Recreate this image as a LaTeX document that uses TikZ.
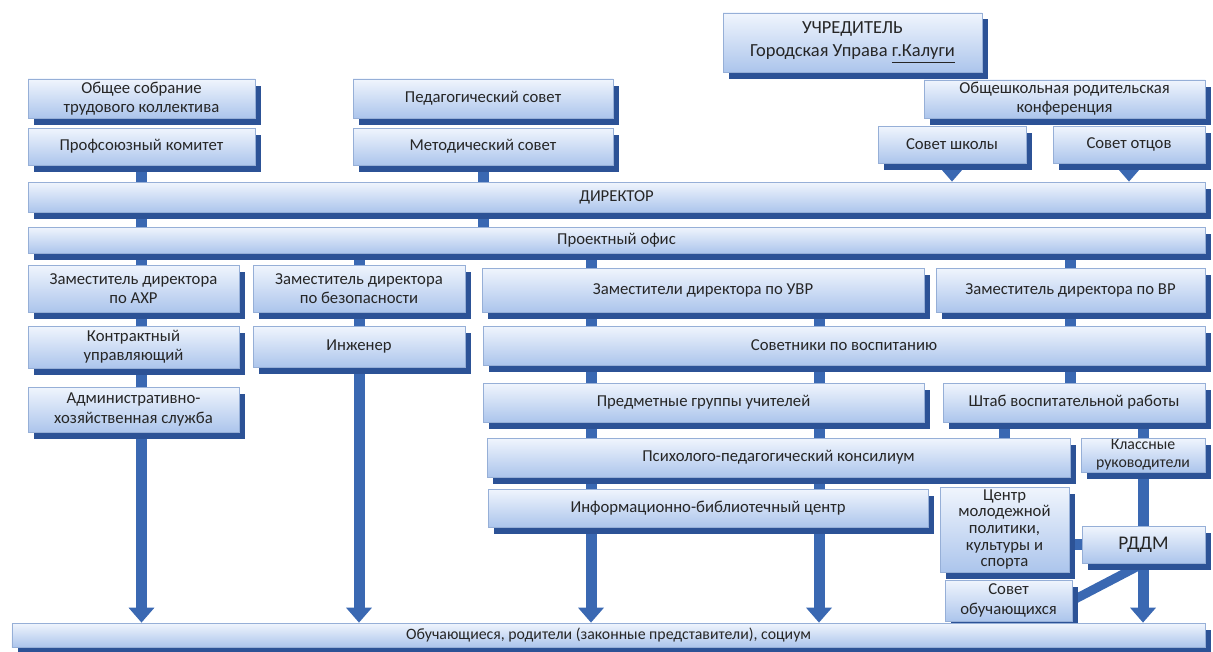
\documentclass[tikz,border=0pt]{standalone}
\usepackage{fontspec}
\setmainfont{Carlito}
\usetikzlibrary{shadows,arrows.meta}
\definecolor{linkblue}{RGB}{58,104,178}
\definecolor{shadowblue}{RGB}{44,82,150}
\definecolor{boxtop}{RGB}{240,245,253}
\definecolor{boxbot}{RGB}{172,197,236}
\definecolor{boxline}{RGB}{150,175,215}
\pgfdeclarelayer{bg}
\pgfsetlayers{bg,main}

\begin{document}
\begin{tikzpicture}[>={Triangle[length=0.3cm,width=0.5cm]},
  box/.style={draw=boxline,top color=boxtop,bottom color=boxbot,text=black!85,
    drop shadow={shadow xshift=0.12cm,shadow yshift=-0.13cm,fill=shadowblue,opacity=1},
    inner sep=0pt,align=center,font=\fontsize{9.5}{11}\selectfont},
  wh/.style 2 args={minimum width=#1cm,minimum height=#2cm},
  link/.style={line width=0.22cm,draw=linkblue}]
\useasboundingbox (0,0) rectangle (24.26,-13.02);
            % upper part
            \node[box,wh={5.18}{1.18},font=\fontsize{10.5}{13}\selectfont] (uchr) at (17.05,-0.85) {УЧРЕДИТЕЛЬ\\Городская Управа \underline{г.Калуги}};
            \node[box,wh={4.54}{0.78}] (obsh) at (2.83,-1.97) {Общее собрание\\трудового коллектива};
            \node[box,wh={4.54}{0.74}] (prof) at (2.83,-2.93) {Профсоюзный комитет};
            \node[box,wh={5.2}{0.78}] (ped) at (9.66,-1.97) {Педагогический совет};
            \node[box,wh={5.2}{0.74}] (met) at (9.66,-2.93) {Методический совет};
            \node[box,wh={5.62}{0.76}] (konf) at (21.29,-1.98) {Общешкольная родительская\\конференция};
            \node[box,wh={2.96}{0.74}] (sch) at (19.04,-2.89) {Совет школы};
            \node[box,wh={3.04}{0.74}] (otcy) at (22.58,-2.89) {Совет отцов};
            \node[box,wh={23.54}{0.6}] (dir) at (12.33,-3.94) {ДИРЕКТОР};
            \node[box,wh={23.54}{0.52}] (proj) at (12.33,-4.8) {Проектный офис};
            % deputies
            \node[box,wh={4.22}{0.94}] (zahr) at (2.67,-5.77) {Заместитель директора\\по АХР};
            \node[box,wh={4.24}{0.94}] (zbez) at (7.18,-5.77) {Заместитель директора\\по безопасности};
            \node[box,wh={8.84}{0.88}] (uvr) at (14.06,-5.8) {Заместители директора по УВР};
            \node[box,wh={5.38}{0.88}] (vr) at (21.41,-5.8) {Заместитель директора по ВР};
            \node[box,wh={4.22}{0.84}] (kontr) at (2.67,-6.94) {Контрактный\\управляющий};
            \node[box,wh={4.24}{0.82}] (inzh) at (7.18,-6.93) {Инженер};
            \node[box,wh={14.44}{0.78}] (sovv) at (16.88,-6.91) {Советники по воспитанию};
            \node[box,wh={4.22}{0.9}] (ahs) at (2.67,-8.19) {Административно-\\хозяйственная служба};
            \node[box,wh={8.82}{0.78}] (pgu) at (14.07,-8.05) {Предметные группы учителей};
            \node[box,wh={5.24}{0.78}] (shtab) at (21.48,-8.05) {Штаб воспитательной работы};
            \node[box,wh={11.66}{0.78}] (ppk) at (15.57,-9.15) {Психолого-педагогический консилиум};
            \node[box,wh={2.48}{0.68},font=\fontsize{9}{10}\selectfont] (kl) at (22.86,-9.1) {Классные\\руководители};
            \node[box,wh={8.8}{0.76}] (ibc) at (14.16,-10.16) {Информационно-библиотечный центр};
            \node[box,wh={2.58}{1.7},font=\fontsize{9.5}{9.4}\selectfont] (cmp) at (20.09,-10.59) {Центр\\молодежной\\политики,\\культуры и\\спорта};
            \node[box,wh={2.46}{0.74},font=\fontsize{11}{13}\selectfont] (rddm) at (22.87,-10.89) {РДДМ};
            \node[box,wh={2.54}{0.82}] (sovob) at (20.17,-12.01) {Совет\\обучающихся};
            \node[box,wh={23.86}{0.48},font=\fontsize{9}{10}\selectfont] (obuch) at (12.17,-12.7) {Обучающиеся, родители (законные представители), социум};
            \coordinate (colA) at (11.82,0);
            \coordinate (colB) at (16.38,0);
            % connectors behind the boxes
            \begin{pgfonlayer}{bg}
            \draw[link,->] (prof) -- (prof |- obuch.north);
            \draw[link,->] (zbez |- proj) -- (zbez |- obuch.north);
            \draw[link,->] (colA |- proj) -- (colA |- obuch.north);
            \draw[link,->] (colB |- uvr) -- (colB |- obuch.north);
            \draw[link,->] (kl |- shtab) -- (kl |- obuch.north);
            \draw[link] (met) -- (met |- proj);
            \draw[link] (vr |- proj) -- (vr |- shtab);
            \draw[link] (cmp |- shtab) -- (cmp |- ppk);
            \draw[link,->] (sch) -- (sch |- dir.north);
            \draw[link,->] (otcy) -- (otcy |- dir.north);
            \draw[link] (rddm) -- (rddm -| cmp);
            \draw[link,line width=0.18cm,shorten <=-0.2cm,shorten >=-0.2cm] (sovob.east) -- (rddm.south);
            \end{pgfonlayer}
        \end{tikzpicture}
\end{document}
